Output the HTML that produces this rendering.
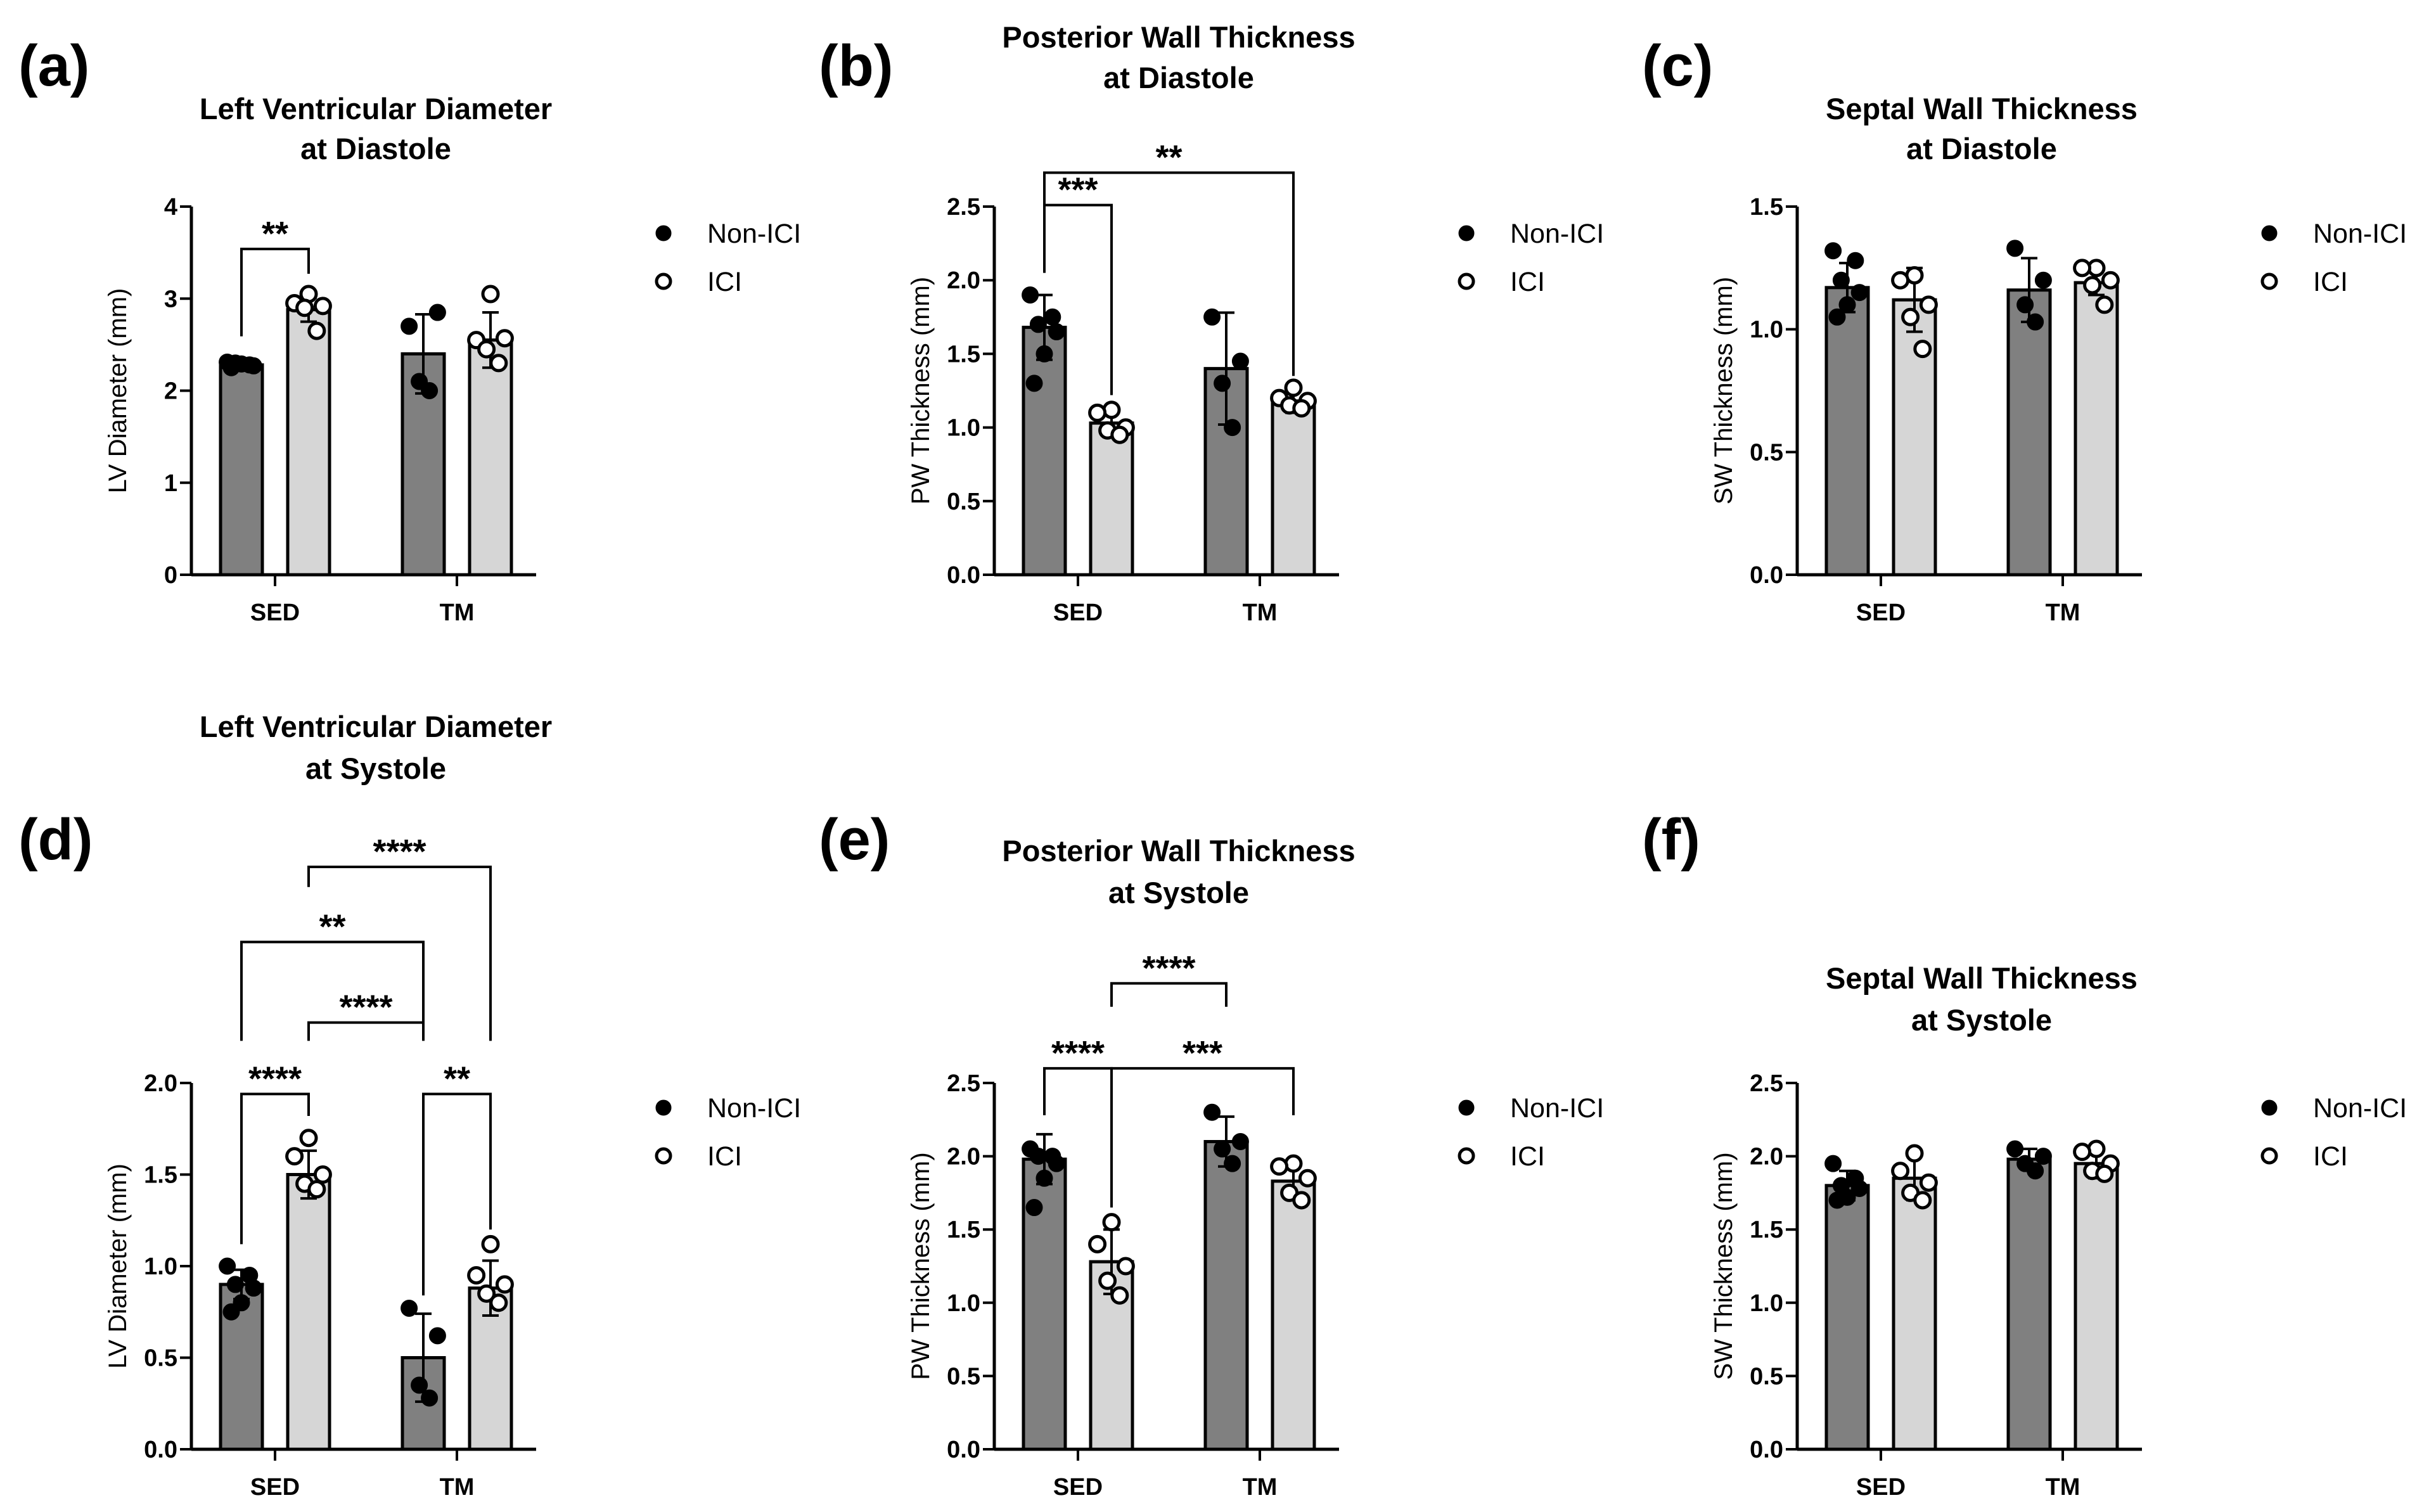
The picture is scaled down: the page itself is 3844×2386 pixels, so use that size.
<!DOCTYPE html>
<html><head><meta charset="utf-8"><style>
html,body{margin:0;padding:0;background:#fff}
svg{display:block}
text{font-family:"Liberation Sans",sans-serif;fill:#000}
</style></head><body>
<svg id="fig" width="3844" height="2386" viewBox="0 0 3844 2386" xmlns="http://www.w3.org/2000/svg"></svg>
<script>
// ---- data ----
const groups = ["SED","TM"];
const seriesNames = ["Non-ICI","ICI"];
const titlesA = ["Left Ventricular Diameter","at Diastole"];
const titlesB = ["Posterior Wall Thickness","at Diastole"];
const titlesC = ["Septal Wall Thickness","at Diastole"];
const titlesD = ["Left Ventricular Diameter","at Systole"];
const titlesE = ["Posterior Wall Thickness","at Systole"];
const titlesF = ["Septal Wall Thickness","at Systole"];
const ticksA = [0,1,2,3,4];
const ticksB = [0,0.5,1,1.5,2,2.5];
const ticksC = [0,0.5,1,1.5];
const ticksD = [0,0.5,1,1.5,2];
const ticksE = [0,0.5,1,1.5,2,2.5];
const ticksF = [0,0.5,1,1.5,2,2.5];
// means: [SED Non-ICI, SED ICI, TM Non-ICI, TM ICI]
const meansA = [2.28,2.88,2.40,2.55];
const sdA = [0.05,0.13,0.43,0.30];
const ptsA = [[2.31,2.28,2.30,2.27,2.29,2.25],[3.05,2.95,2.92,2.90,2.65],[2.70,2.85,2.10,2.00],[3.05,2.55,2.57,2.45,2.30]];
const meansB = [1.68,1.03,1.40,1.18];
const sdB = [0.22,0.08,0.38,0.08];
const ptsB = [[1.90,1.75,1.70,1.65,1.50,1.30],[1.12,1.10,1.00,0.98,0.95],[1.75,1.45,1.30,1.00],[1.27,1.20,1.18,1.15,1.13]];
const meansC = [1.17,1.12,1.16,1.19];
const sdC = [0.10,0.13,0.13,0.05];
const ptsC = [[1.32,1.28,1.20,1.15,1.10,1.05],[1.22,1.20,1.10,1.05,0.92],[1.33,1.20,1.10,1.03],[1.25,1.25,1.20,1.18,1.10]];
const meansD = [0.90,1.50,0.50,0.88];
const sdD = [0.08,0.13,0.24,0.15];
const ptsD = [[1.00,0.95,0.90,0.88,0.80,0.75],[1.70,1.60,1.50,1.45,1.42],[0.77,0.62,0.35,0.28],[1.12,0.95,0.90,0.85,0.80]];
const meansE = [1.98,1.28,2.10,1.83];
const sdE = [0.17,0.22,0.17,0.10];
const ptsE = [[2.05,2.00,2.00,1.95,1.85,1.65],[1.55,1.40,1.25,1.15,1.05],[2.30,2.10,2.05,1.95],[1.95,1.93,1.85,1.75,1.70]];
const meansF = [1.80,1.85,1.98,1.95];
const sdF = [0.10,0.15,0.07,0.10];
const ptsF = [[1.95,1.85,1.80,1.78,1.72,1.70],[2.02,1.90,1.82,1.75,1.70],[2.05,2.00,1.95,1.90],[2.05,2.03,1.95,1.90,1.88]];
// brackets: [fromBar, toBar, lineValue, leftLegBottom, rightLegBottom, label]
const bracketsA = [[0,1,3.54,2.59,3.27,"**"]];
const bracketsB = [[0,1,2.51,2.05,1.22,"***"],[0,3,2.73,2.51,1.35,"**"]];
const bracketsC = [];
const bracketsD = [[0,1,1.94,1.12,1.82,"****"],[2,3,1.94,0.84,1.20,"**"],[1,2,2.33,2.23,2.23,"****"],[0,2,2.77,2.23,2.23,"**"],[1,3,3.18,3.07,2.23,"****"]];
const bracketsE = [[0,1,2.60,2.28,1.65,"****"],[1,3,2.60,1.65,2.28,"***"],[1,2,3.18,3.02,3.02,"****"]];
const bracketsF = [];

const NS="http://www.w3.org/2000/svg";
const svg=document.getElementById('fig');
function mk(tag,attrs,parent){const e=document.createElementNS(NS,tag);for(const k in attrs)e.setAttribute(k,attrs[k]);(parent||svg).appendChild(e);return e;}

const panels=[
 {id:"a",ax:302,y0:907,h:581,max:4,ticks:ticksA,dec:0,title:titlesA,ty:[172,235],ylab:"LV Diameter (mm)",means:meansA,sd:sdA,pts:ptsA,br:bracketsA,lx:29,ly:103},
 {id:"b",ax:1569,y0:907,h:581,max:2.5,ticks:ticksB,dec:1,title:titlesB,ty:[59,123],ylab:"PW Thickness (mm)",means:meansB,sd:sdB,pts:ptsB,br:bracketsB,lx:1292,ly:103},
 {id:"c",ax:2836,y0:907,h:581,max:1.5,ticks:ticksC,dec:1,title:titlesC,ty:[172,235],ylab:"SW Thickness (mm)",means:meansC,sd:sdC,pts:ptsC,br:bracketsC,lx:2591,ly:103},
 {id:"d",ax:302,y0:2287,h:578,max:2,ticks:ticksD,dec:1,title:titlesD,ty:[1147,1213],ylab:"LV Diameter (mm)",means:meansD,sd:sdD,pts:ptsD,br:bracketsD,lx:29,ly:1324},
 {id:"e",ax:1569,y0:2287,h:578,max:2.5,ticks:ticksE,dec:1,title:titlesE,ty:[1343,1409],ylab:"PW Thickness (mm)",means:meansE,sd:sdE,pts:ptsE,br:bracketsE,lx:1292,ly:1324},
 {id:"f",ax:2836,y0:2287,h:578,max:2.5,ticks:ticksF,dec:1,title:titlesF,ty:[1544,1610],ylab:"SW Thickness (mm)",means:meansF,sd:sdF,pts:ptsF,br:bracketsF,lx:2591,ly:1324}
];
const jitter=[[-14,8,-6,12,0,-10],[0,-14,14,-4,8,-8],[-14,14,-4,6]];

panels.forEach(p=>{
  const g=mk('g',{});
  
  
  const y=v=>p.y0-v/p.max*p.h;
  const gx=i=>p.ax+132+i*287;
  const bx=b=>gx(Math.floor(b/2))+(b%2===0?-53:53);
  const lab=mk('text',{x:p.lx,y:p.ly+32,'font-size':92,'font-weight':'bold'},g);lab.textContent='('+p.id+')';
  
  
  p.title.forEach((t,i)=>{const e=mk('text',{x:p.ax+291,y:p.ty[i]+16,'font-size':47,'font-weight':'bold','text-anchor':'middle'},g);e.textContent=t;
    
    });
  p.means.forEach((m,b)=>{
    const r=mk('rect',{x:bx(b)-33,y:y(m),width:66,height:p.y0-y(m),fill:b%2===0?'#808080':'#d6d6d6',stroke:'#000','stroke-width':5},g);
    
    
  });
  p.means.forEach((m,b)=>{
    const x=bx(b),lo=y(m-p.sd[b]),hi=y(m+p.sd[b]);
    const e=mk('path',{d:`M${x} ${lo}V${hi}M${x-13} ${hi}H${x+13}M${x-13} ${lo}H${x+13}`,stroke:'#000','stroke-width':4,fill:'none'},g);
    
    
  });
  p.pts.forEach((arr,b)=>{
    const j=jitter[arr.length===4?2:b%2];
    arr.forEach((v,k)=>{
      const c=mk('circle',{cx:bx(b)+j[k]*1.6,cy:y(v),r:b%2===0?13:12,fill:b%2===0?'#000':'#fff',stroke:'#000','stroke-width':b%2===0?1:5},g);
      
      
    });
  });
  const ax=mk('path',{d:`M${p.ax} ${p.y0}V${p.y0-p.h}M${p.ax} ${p.y0}H${p.ax+544}`,stroke:'#000','stroke-width':5,fill:'none'},g);
  
  
  p.ticks.forEach(t=>{
    mk('line',{x1:p.ax-18,x2:p.ax,y1:y(t),y2:y(t),stroke:'#000','stroke-width':4},g);
    const e=mk('text',{x:p.ax-22,y:y(t)+13,'font-size':38,'font-weight':'bold','text-anchor':'end'},g);
    e.textContent=p.dec?t.toFixed(1):t;
    
    
  });
  groups.forEach((gn,i)=>{
    mk('line',{x1:gx(i),x2:gx(i),y1:p.y0,y2:p.y0+18,stroke:'#000','stroke-width':4},g);
    const e=mk('text',{x:gx(i),y:p.y0+72,'font-size':38,'font-weight':'bold','text-anchor':'middle'},g);e.textContent=gn;
    
    
  });
  const yl=mk('text',{x:0,y:0,'font-size':40,'text-anchor':'middle',transform:`translate(${p.ax-103},${p.y0-p.h/2}) rotate(-90)`},g);
  yl.textContent=p.ylab;
  
  
  p.br.forEach(br=>{
    const x1=bx(br[0]),x2=bx(br[1]),yy=y(br[2]);
    const e=mk('path',{d:`M${x1} ${y(br[3])}V${yy}H${x2}V${y(br[4])}`,stroke:'#000','stroke-width':4,fill:'none'},g);
    
    
    const t=mk('text',{x:(x1+x2)/2,y:yy-6,'font-size':54,'font-weight':'bold','text-anchor':'middle'},g);t.textContent=br[5];
    
    
  });
  seriesNames.forEach((s,i)=>{
    const ly=p.y0-539+i*76;
    const c=mk('circle',{cx:p.ax+745,cy:ly,r:i===0?12:11,fill:i===0?'#000':'#fff',stroke:'#000','stroke-width':i===0?1:5},g);
    
    
    const t=mk('text',{x:p.ax+814,y:ly+15,'font-size':43},g);t.textContent=s;
    
    
  });
});
</script>
</body></html>
